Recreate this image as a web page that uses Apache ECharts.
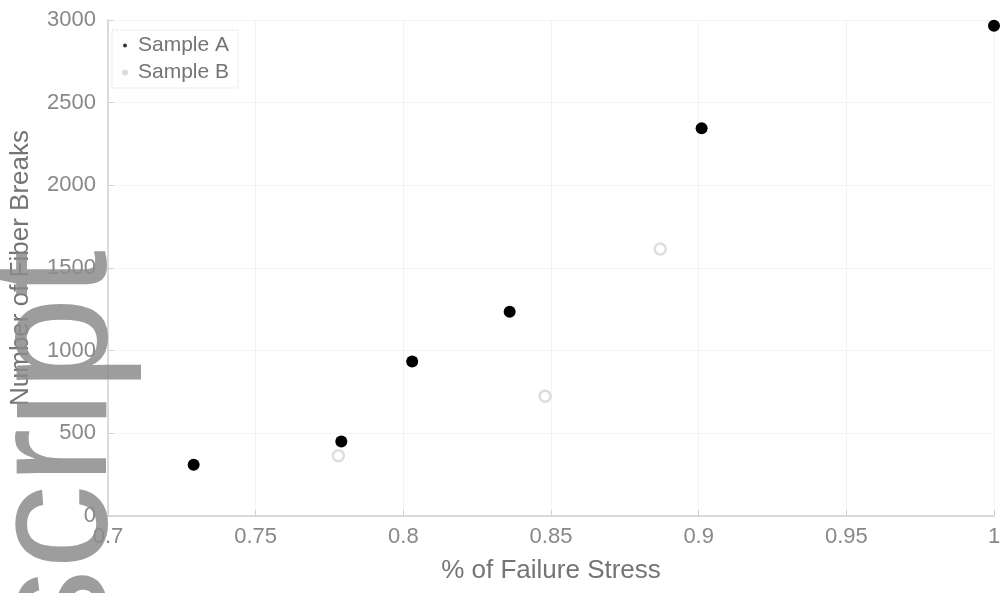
<!DOCTYPE html>
<html>
<head>
<meta charset="utf-8">
<script src="https://cdn.jsdelivr.net/npm/echarts@6/dist/echarts.min.js"></script>
<style>
html,body{margin:0;padding:0;background:#fff;}
#c{width:1005px;height:593px;}
</style>
</head>
<body>
<div id="c"></div>
<script>
// Data
const seriesNames = ['Sample A', 'Sample B'];
const sampleAX = [0.729, 0.779, 0.803, 0.836, 0.901, 1.0];
const sampleAY = [310, 450, 935, 1235, 2345, 2965];
const sampleBX = [0.778, 0.848, 0.887];
const sampleBY = [365, 725, 1615];
const xTicks = [0.7, 0.75, 0.8, 0.85, 0.9, 0.95, 1];
const yTicks = [0, 500, 1000, 1500, 2000, 2500, 3000];
const xTitle = '% of Failure Stress';
const yTitle = 'Number of Fiber Breaks';
const watermark = 'Manuscript';

const FONT = '"Liberation Sans", Arial, Helvetica, sans-serif';
const zip = (xs, ys) => xs.map((x, i) => [x, ys[i]]);

const chart = echarts.init(document.getElementById('c'), null, {renderer: 'canvas'});
chart.setOption({
  animation: false,
  backgroundColor: '#ffffff',
  grid: {left: 105, right: 11, top: 20, bottom: 77, containLabel: false},
  xAxis: {
    type: 'value', min: 0.7, max: 1, interval: 0.05,
    name: xTitle, nameLocation: 'middle', nameGap: 42,
    nameTextStyle: {fontFamily: FONT, fontSize: 26, color: '#747474'},
    axisLine: {show: true, lineStyle: {color: '#d0d0d0', width: 1.5}},
    axisTick: {show: true, inside: true, length: 6, lineStyle: {color: '#d0d0d0'}},
    splitLine: {show: true, lineStyle: {color: '#f3f3f3', width: 1}},
    axisLabel: {fontFamily: FONT, fontSize: 22, color: '#888888', margin: 10,
      formatter: v => { const t = xTicks.find(k => Math.abs(k - v) < 1e-9); return t === undefined ? '' : String(t); }}
  },
  yAxis: {
    type: 'value', min: 0, max: 3000, interval: 500,
    name: yTitle, nameLocation: 'middle', nameGap: 74, nameRotate: 90,
    nameTextStyle: {fontFamily: FONT, fontSize: 26, color: '#747474'},
    axisLine: {show: true, lineStyle: {color: '#d0d0d0', width: 1.5}},
    axisTick: {show: true, inside: true, length: 6, lineStyle: {color: '#d0d0d0'}},
    splitLine: {show: true, lineStyle: {color: '#f3f3f3', width: 1}},
    axisLabel: {fontFamily: FONT, fontSize: 22, color: '#888888', margin: 12,
      formatter: v => { const t = yTicks.find(k => Math.abs(k - v) < 1e-9); return t === undefined ? '' : String(t); }}
  },
  legend: {
    left: 112, top: 30, orient: 'vertical',
    padding: [5, 9, 5, 10], itemGap: 6, itemWidth: 4, itemHeight: 4,
    borderColor: '#d8d8d8', borderWidth: 1, borderType: 'dotted',
    textStyle: {fontFamily: FONT, fontSize: 21, color: '#747474', padding: [0, 0, 0, 6]},
    data: [
      {name: seriesNames[0], icon: 'circle', itemStyle: {color: '#333'}},
      {name: seriesNames[1], icon: 'circle', itemStyle: {color: '#d8d8d8'}}
    ]
  },
  series: [
    {
      name: seriesNames[0], type: 'scatter', symbol: 'circle', symbolSize: 12,
      itemStyle: {color: '#000', opacity: 1},
      data: zip(sampleAX, sampleAY), z: 3
    },
    {
      name: seriesNames[1], type: 'scatter', symbol: 'circle', symbolSize: 11,
      itemStyle: {color: '#ffffff', borderColor: '#dddddd', borderWidth: 2.5, opacity: 1},
      data: zip(sampleBX, sampleBY), z: 2
    }
  ],
  graphic: [{
    type: 'text', z: 100,
    x: 59, y: 250, rotation: Math.PI / 2,
    style: {
      text: watermark, fontFamily: FONT, fontSize: 169,
      fill: 'rgba(140,140,140,0.85)', align: 'right', verticalAlign: 'middle'
    }
  }]
});
</script>
</body>
</html>
